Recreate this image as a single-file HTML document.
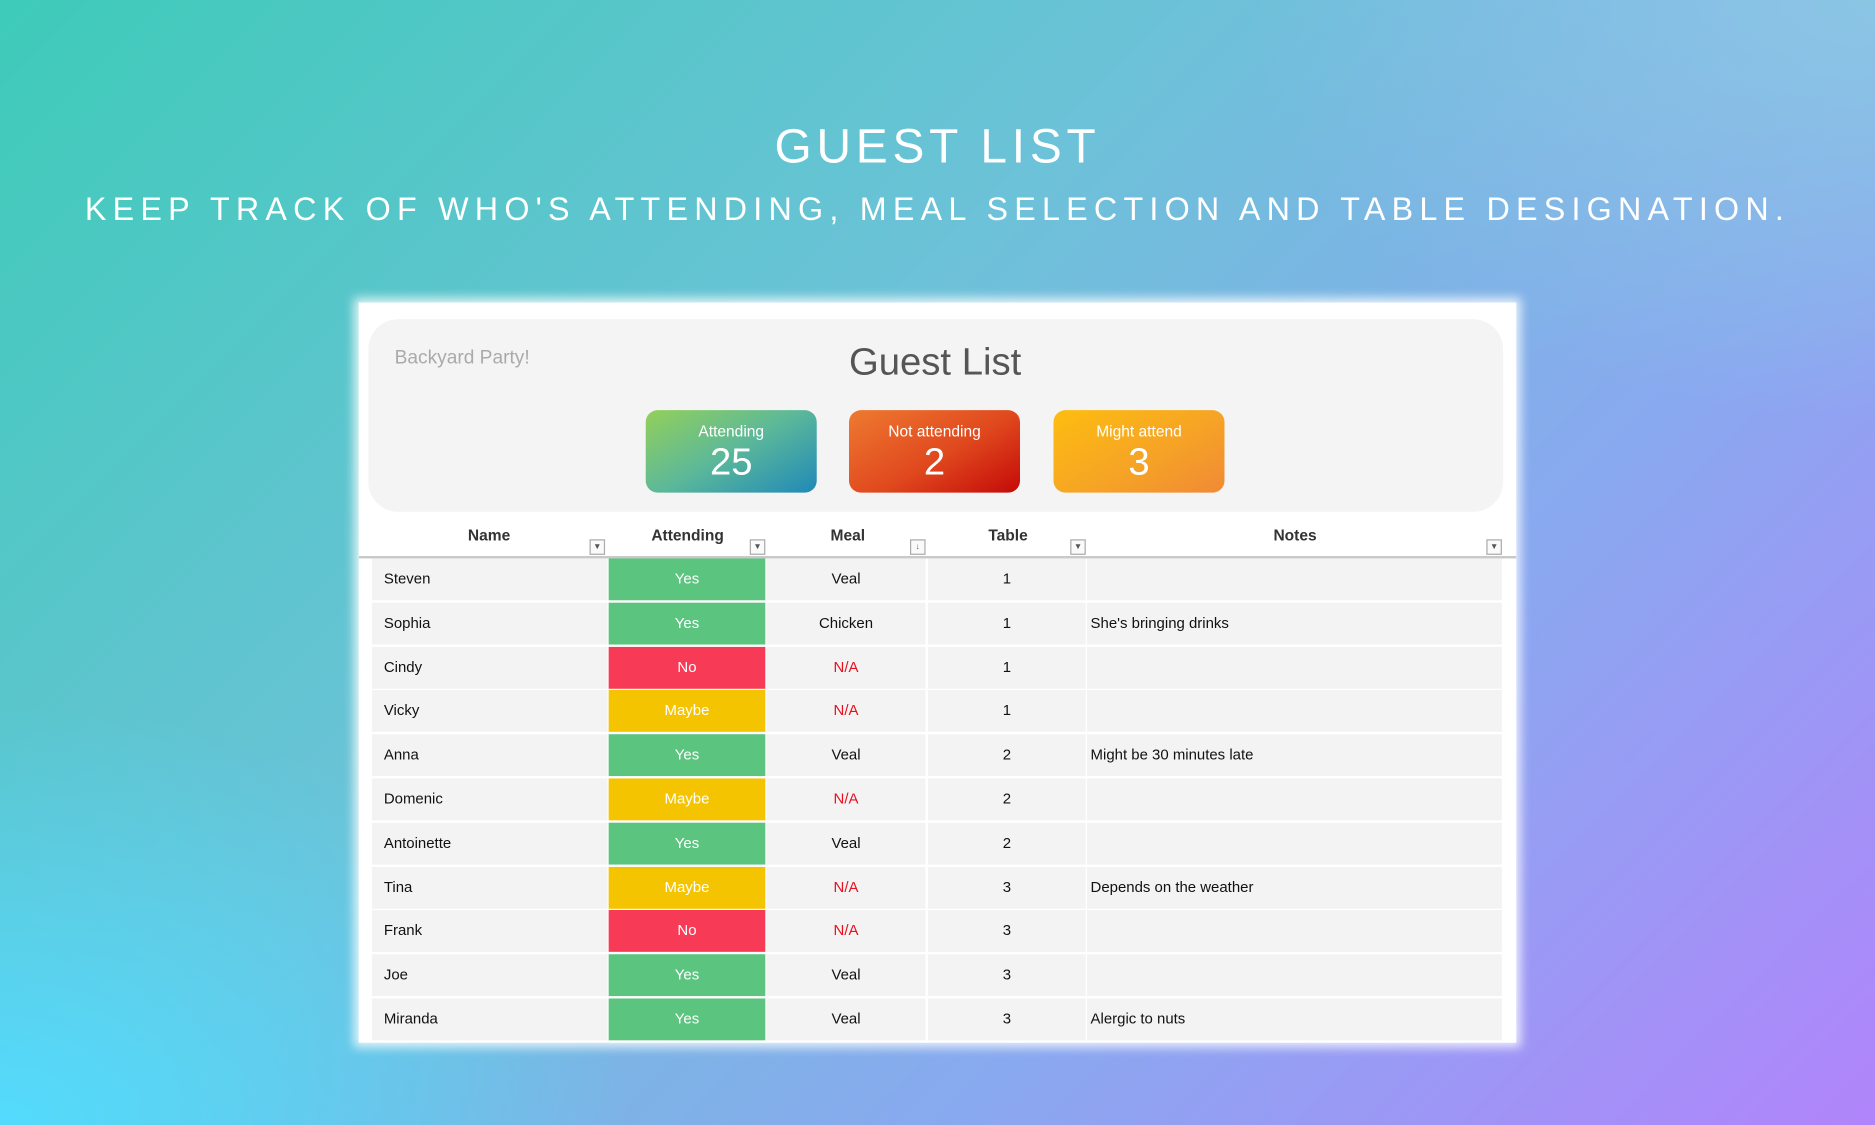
<!DOCTYPE html>
<html><head><meta charset="utf-8"><style>
*{margin:0;padding:0;box-sizing:border-box}
html,body{width:1875px;height:1125px;overflow:hidden}
body{position:relative;background:
radial-gradient(ellipse 900px 600px at 0% 100%, rgba(82,220,255,0.95), rgba(82,220,255,0) 70%),
radial-gradient(ellipse 900px 600px at 100% 0%, rgba(140,200,228,0.9), rgba(140,200,228,0) 70%),
linear-gradient(135deg,#3ecbb9 0%,#6cc2d8 40%,#8aa8f0 70%,#b184fb 100%);font-family:"Liberation Sans",sans-serif}
#w{position:absolute;left:0;top:0;width:1568px;height:941px;transform:scale(1.19579);transform-origin:0 0}
.a{position:absolute}
.t1{left:0;width:1568px;top:100px;text-align:center;color:#fff;font-size:40px;letter-spacing:4px;line-height:46px;font-weight:normal}
.t2{left:0;width:1568px;top:159px;text-align:center;color:#fff;font-size:27px;letter-spacing:5.2px;line-height:32px;white-space:nowrap}
.panel{left:300px;top:253px;width:968px;height:619px;background:#fff;box-shadow:0 0 8px 4px rgba(255,255,255,0.8);overflow:hidden}
.card{left:8px;top:14px;width:949px;height:161px;background:#f4f4f4;border-radius:25px}
.bp{left:30px;top:38px;color:#aaa;font-size:16px}
.gl{left:0;width:964px;top:31px;text-align:center;font-size:32px;color:#555}
.k{width:143px;height:69px;border-radius:10px;color:#fff;text-align:center}
.k .l{font-size:13px;margin-top:10px}
.k .n{font-size:32px;line-height:34px;margin-top:1px}
.h{top:187px;font-size:13px;font-weight:bold;color:#333;text-align:center}
.f{top:198px;width:13px;height:13px;border:1px solid #aaa;background:#fafafa;font-size:7px;color:#555;text-align:center;line-height:11px}
.line{left:0;top:212px;width:968px;height:2px;background:#c8c8c8}
.c{height:35px;background:#f3f3f3;font-size:12.5px;line-height:35px;color:#111}
</style></head><body><div id="w">
<div class="a t1">GUEST LIST</div>
<div class="a t2">KEEP TRACK OF WHO'S ATTENDING, MEAL SELECTION AND TABLE DESIGNATION.</div>
<div class="a panel">
<div class="a card"></div>
<div class="a bp">Backyard Party!</div>
<div class="a gl">Guest List</div>
<div class="a k" style="left:240px;top:90px;background:linear-gradient(150deg,#93d05a,#5bb89a 50%,#2089b8)"><div class="l">Attending</div><div class="n">25</div></div>
<div class="a k" style="left:410px;top:90px;background:linear-gradient(150deg,#ee7a30,#e0481e 55%,#c40a08)"><div class="l">Not attending</div><div class="n">2</div></div>
<div class="a k" style="left:581px;top:90px;background:linear-gradient(150deg,#fdbd10,#f6a425 55%,#f08a35)"><div class="l">Might attend</div><div class="n">3</div></div>
<div class="a h" style="left:59px;width:100px">Name</div>
<div class="a h" style="left:225px;width:100px">Attending</div>
<div class="a h" style="left:359px;width:100px">Meal</div>
<div class="a h" style="left:493px;width:100px">Table</div>
<div class="a h" style="left:733px;width:100px">Notes</div>
<div class="a f" style="left:193px">▼</div>
<div class="a f" style="left:327px">▼</div>
<div class="a f" style="left:461px">↓</div>
<div class="a f" style="left:595px">▼</div>
<div class="a f" style="left:943px">▼</div>
<div class="a line"></div>
<div id="rows"></div>
</div>
</div>
<script>
var d=[["Steven","Yes","Veal","1",""],["Sophia","Yes","Chicken","1","She's bringing drinks"],["Cindy","No","N/A","1",""],["Vicky","Maybe","N/A","1",""],["Anna","Yes","Veal","2","Might be 30 minutes late"],["Domenic","Maybe","N/A","2",""],["Antoinette","Yes","Veal","2",""],["Tina","Maybe","N/A","3","Depends on the weather"],["Frank","No","N/A","3",""],["Joe","Yes","Veal","3",""],["Miranda","Yes","Veal","3","Alergic to nuts"],["","Yes","","",""]];
var col={Yes:"#5bc47e",No:"#f73b57",Maybe:"#f5c400"};
var h="";
for(var i=0;i<d.length;i++){var y=214+i*36.8,r=d[i];
h+='<div class="a c" style="left:11px;top:'+y+'px;width:197px;padding-left:10px">'+r[0]+'</div>';
h+='<div class="a c" style="left:209px;top:'+y+'px;width:131px;text-align:center;color:#fff;background:'+col[r[1]]+'">'+r[1]+'</div>';
h+='<div class="a c" style="left:341px;top:'+y+'px;width:133px;text-align:center;'+(r[2]=="N/A"?'color:#e8101e':'')+'">'+r[2]+'</div>';
h+='<div class="a c" style="left:476px;top:'+y+'px;width:132px;text-align:center">'+r[3]+'</div>';
h+='<div class="a c" style="left:609px;top:'+y+'px;width:347px;padding-left:3px">'+r[4]+'</div>';}
document.getElementById("rows").outerHTML=h;
</script>
</body></html>
